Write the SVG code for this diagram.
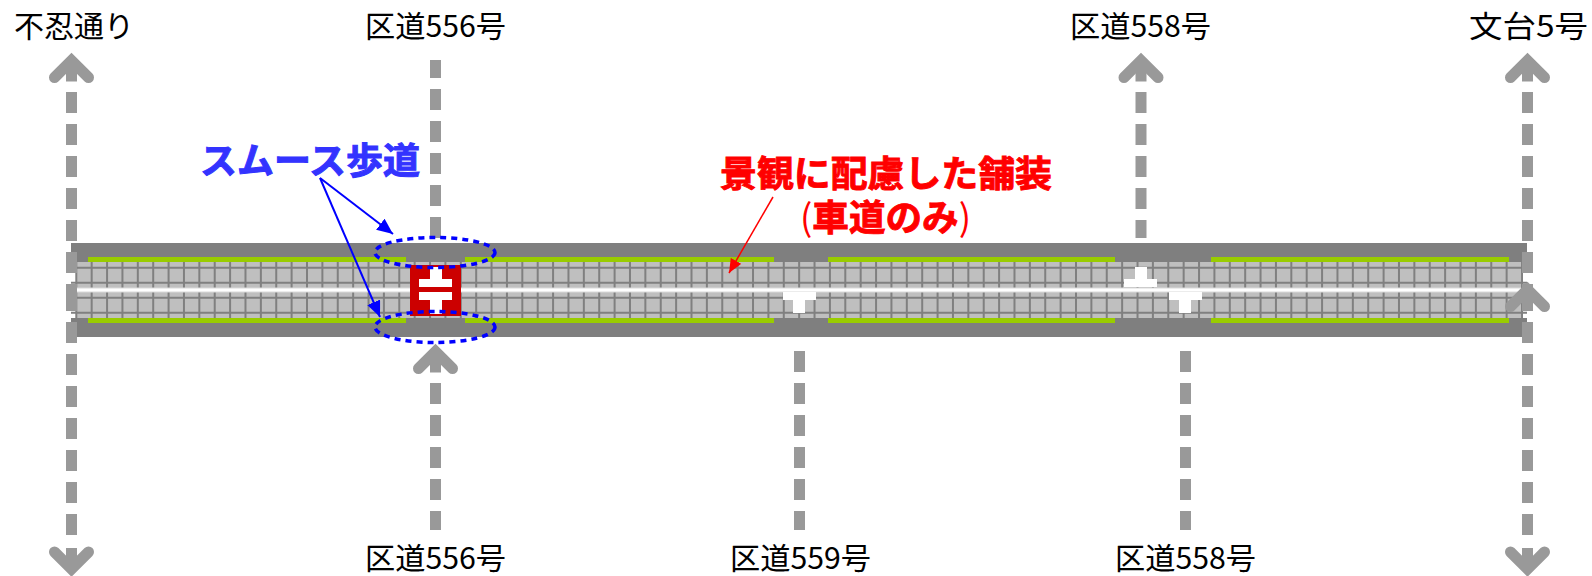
<svg xmlns="http://www.w3.org/2000/svg" width="1592" height="576" viewBox="0 0 1592 576">
  <style>
    .lbl{font-family:"Noto Sans CJK JP","Liberation Sans",sans-serif;font-size:30px;fill:#000}
    .blue{font-family:"Noto Sans CJK JP","Liberation Sans",sans-serif;font-size:36px;font-weight:700;fill:#3333ff;stroke:#3333ff;stroke-width:1}
    .red{font-family:"Noto Sans CJK JP","Liberation Sans",sans-serif;font-size:36.5px;font-weight:700;fill:#ff0000;stroke:#ff0000;stroke-width:.9}
    .thin{font-weight:400;stroke-width:0}
    .dash{stroke:#999;stroke-width:11;stroke-dasharray:21 11;fill:none}
    .head{stroke:#999;stroke-width:11;fill:none;stroke-linecap:round}
    .shaft{stroke:#999;stroke-width:11;fill:none}
    .band{fill:#7f7f7f}
    .green{fill:#99cc00}
    .mark{fill:#fff}
    .oval{fill:none;stroke:#0000ff;stroke-width:3.5;stroke-dasharray:6 5}
  </style>
  <defs>
    <g id="arrowhead">
      <path class="head" d="M-17 17L0 0L17 17"/>
      <path class="shaft" d="M0 0V21"/>
    </g>
    <marker id="mb" markerUnits="userSpaceOnUse" markerWidth="16" markerHeight="14" refX="16" refY="7" orient="auto">
      <path d="M0 0L16 7L0 14Z" fill="#0000ff"/>
    </marker>
    <marker id="mr" markerUnits="userSpaceOnUse" markerWidth="14" markerHeight="12" refX="14" refY="6" orient="auto">
      <path d="M0 0L14 6L0 12Z" fill="#ff0000"/>
    </marker>
  </defs>
  <g id="road">
    <rect x="77" y="262" width="1444" height="56" fill="#bfbfbf"/>
    <path d="M71 267.8H1527M71 282.8H1527M71 297.8H1527M71 312.8H1527" stroke="#808080" stroke-width="2" fill="none"/>
    <path d="M75.3 290H1523" stroke="#808080" stroke-width="56" stroke-dasharray="2 13.38" fill="none"/>
    <rect class="band" x="71" y="243" width="1456" height="19"/>
    <rect class="band" x="71" y="318" width="1456" height="19"/>
    <path class="green" d="M88 257H406V262H88ZM465 257H774V262H465ZM828 257H1115V262H828ZM1211 257H1509V262H1211ZM88 318H406V323H88ZM465 318H774V323H465ZM828 318H1115V323H828ZM1211 318H1509V323H1211Z"/>
    <rect x="77" y="287.5" width="1444" height="5" fill="#d9d9d9"/>
    <rect x="77" y="288.5" width="1444" height="3" fill="#fff"/>
  </g>
  <g id="crossing">
    <rect x="410" y="265" width="51" height="51" fill="#cc0000"/>
    <path class="mark" d="M430 267H442V279H452V287H419V279H430ZM419 292H452V300H442V314H430V300H419Z"/>
  </g>
  <g id="junction-559"><path class="mark" d="M783 292H816V300H805V313H793V300H783Z"/></g>
  <g id="junction-558-n"><path class="mark" d="M1135 267H1147V279H1157V287H1124V279H1135Z"/></g>
  <g id="junction-558-s"><path class="mark" d="M1169 292H1202V300H1191V313H1179V300H1169Z"/></g>
  <g id="connectors">
    <line class="dash" x1="71.5" y1="92" x2="71.5" y2="305"/>
    <line class="dash" x1="71.5" y1="290" x2="71.5" y2="536"/>
    <line class="dash" x1="435.5" y1="238" x2="435.5" y2="60"/>
    <line class="dash" x1="435.5" y1="383" x2="435.5" y2="530"/>
    <line class="dash" x1="799.5" y1="351" x2="799.5" y2="530"/>
    <line class="dash" x1="1141" y1="92" x2="1141" y2="238"/>
    <line class="dash" x1="1185.5" y1="351" x2="1185.5" y2="530"/>
    <line class="dash" x1="1527.5" y1="92" x2="1527.5" y2="305"/>
    <line class="dash" x1="1527.5" y1="290" x2="1527.5" y2="536"/>
    <use href="#arrowhead" transform="translate(71.5 60.5)"/>
    <use href="#arrowhead" transform="translate(71.5 569) scale(1 -1)"/>
    <use href="#arrowhead" transform="translate(435.5 351.5)"/>
    <use href="#arrowhead" transform="translate(1141 60.5)"/>
    <use href="#arrowhead" transform="translate(1527.5 60.5)"/>
    <use href="#arrowhead" transform="translate(1527.5 289.5)"/>
    <use href="#arrowhead" transform="translate(1527.5 569) scale(1 -1)"/>
    <line x1="320" y1="178" x2="393" y2="234" stroke="#0000ff" stroke-width="2" marker-end="url(#mb)"/>
    <line x1="320" y1="178" x2="380" y2="317" stroke="#0000ff" stroke-width="2" marker-end="url(#mb)"/>
    <line x1="773" y1="197" x2="729" y2="273" stroke="#ff0000" stroke-width="1.5" marker-end="url(#mr)"/>
  </g>
  <g id="ovals">
    <ellipse class="oval" cx="435" cy="252.5" rx="60" ry="15"/>
    <ellipse class="oval" cx="435" cy="327" rx="60" ry="15.5"/>
  </g>
  <g id="labels">
    <text class="lbl" x="14" y="37" textLength="120" lengthAdjust="spacingAndGlyphs">不忍通り</text>
    <text class="lbl" x="365" y="37" textLength="141" lengthAdjust="spacingAndGlyphs">区道556号</text>
    <text class="lbl" x="1070" y="37" textLength="141" lengthAdjust="spacingAndGlyphs">区道558号</text>
    <text class="lbl" x="1469" y="37" textLength="119" lengthAdjust="spacingAndGlyphs">文台5号</text>
    <text class="lbl" x="365" y="569" textLength="141" lengthAdjust="spacingAndGlyphs">区道556号</text>
    <text class="lbl" x="730" y="569" textLength="141" lengthAdjust="spacingAndGlyphs">区道559号</text>
    <text class="lbl" x="1115" y="569" textLength="141" lengthAdjust="spacingAndGlyphs">区道558号</text>
    <text class="blue" x="200" y="174" textLength="220" lengthAdjust="spacingAndGlyphs">スムース歩道</text>
    <text class="red" x="720" y="187" textLength="332" lengthAdjust="spacingAndGlyphs">景観に配慮した舗装</text>
    <text class="red" x="800" y="231" textLength="171" lengthAdjust="spacingAndGlyphs"><tspan class="thin">(</tspan>車道のみ<tspan class="thin">)</tspan></text>
  </g>
</svg>
